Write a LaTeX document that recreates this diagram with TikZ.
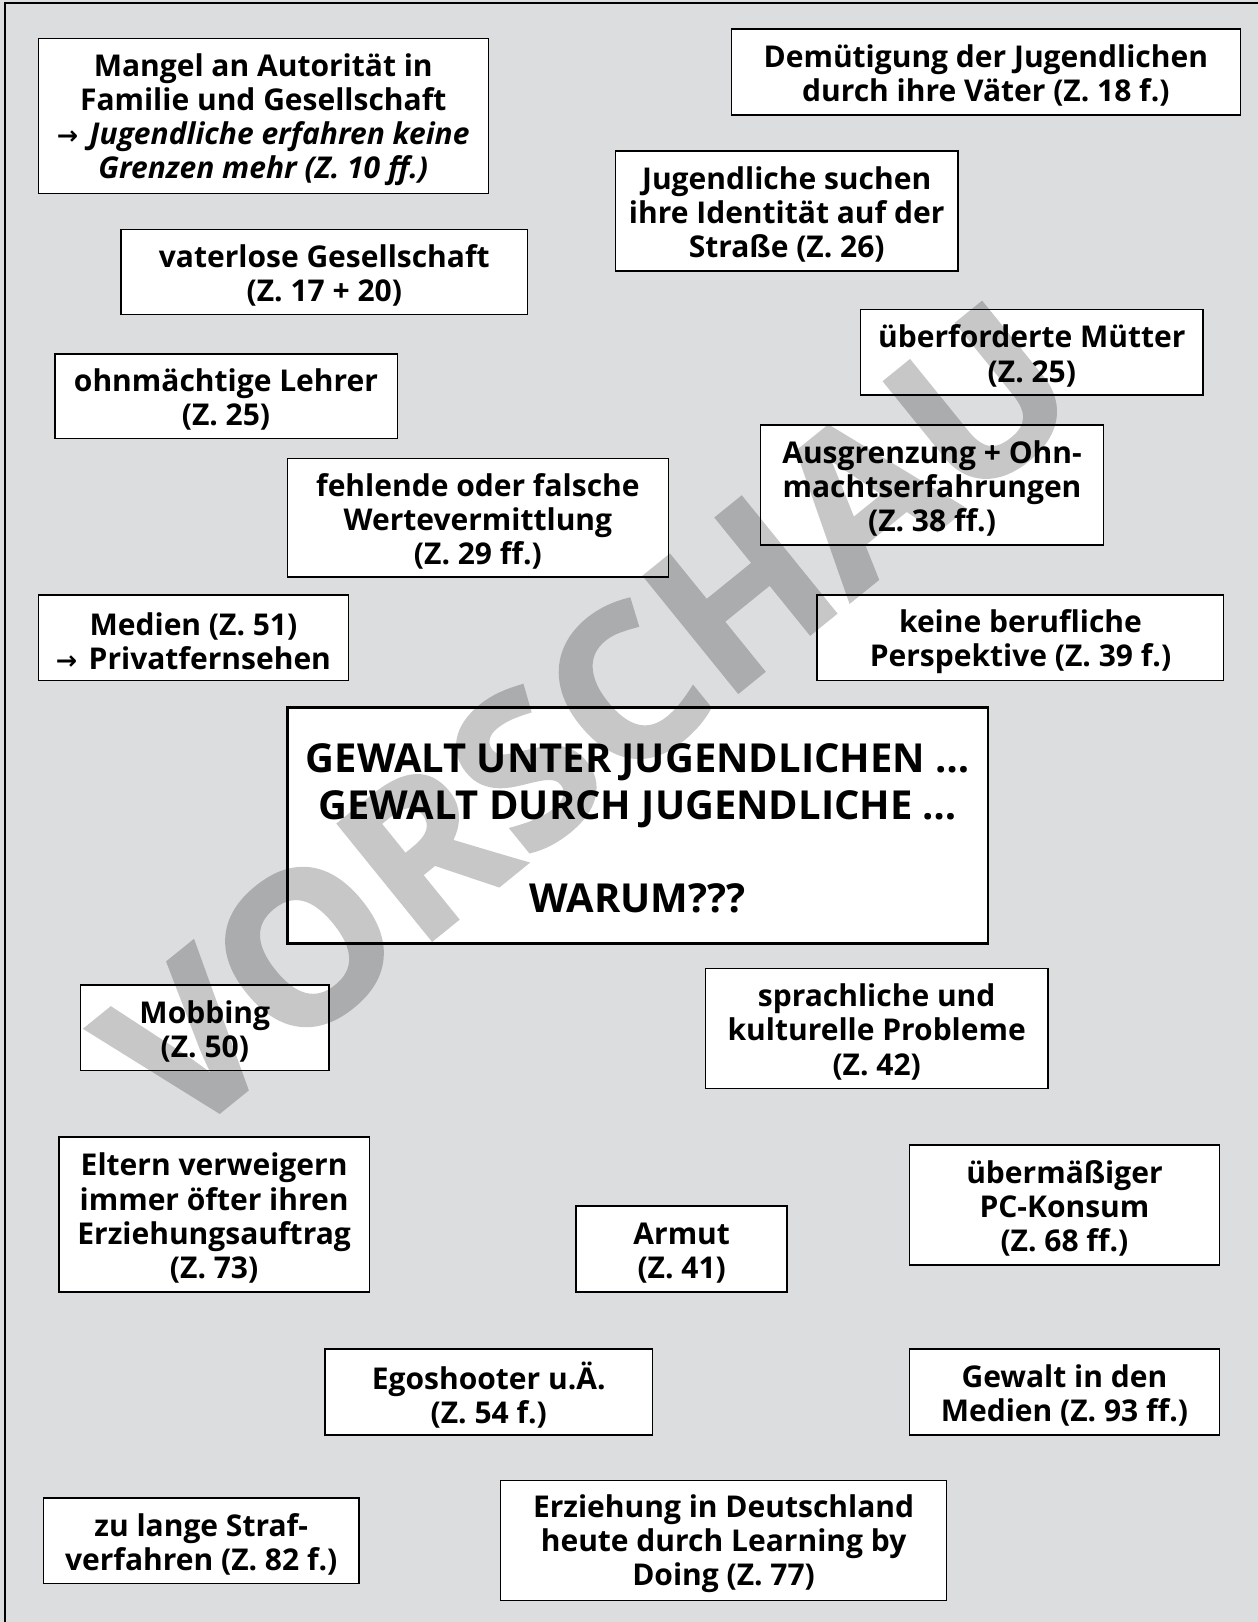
\documentclass[tikz,border=0pt]{standalone}
\usepackage{fontspec}
\setmainfont{Open Sans}
\newfontfamily\arrowfont{DejaVu Sans}[Scale=0.85]
\newfontfamily\wmfont{Open Sans}[BoldFeatures={FakeBold=1.5}]
\definecolor{bgcol}{RGB}{220,221,223}
\newcommand\bodyfont{\fontsize{14.5}{16.5}\selectfont\bfseries}
\newcommand\bigfont{\fontsize{19.3}{22.5}\selectfont\bfseries}
\newcommand\arr{{\arrowfont\upshape →}\hspace{0.12em}}
\begin{document}
\begin{tikzpicture}[x=0.5pt,y=-0.5pt,
  box/.style 2 args={draw, line width=0.7pt, fill=white,
    minimum width=#1*0.5pt, minimum height=#2*0.5pt, inner sep=0pt},
  txt/.style={align=center, font=\bodyfont, inner sep=0pt, yshift=-1.75pt},
  bigtxt/.style={txt, font=\bigfont, yshift=0.25pt},
  wmark/.style={rotate=39, xscale=1.02, inner sep=0pt,
    font=\fontsize{101}{101}\wmfont\bfseries}]
\useasboundingbox (0,0) rectangle (1216,1568);
\fill[bgcol] (0,0) rectangle (1216,1568);
\draw[line width=0.8pt] (4.8,1570) -- (4.8,2.9) -- (1218,2.9);

\node[box={435}{150}, label={[txt]center:{Mangel an Autorität in\\Familie und Gesellschaft\\\itshape\arr{} Jugendliche erfahren keine\\\itshape Grenzen mehr (Z. 10 ff.)}}] (mangel) at (254.5,112) {};
\node[box={492}{83}, label={[txt]center:{Demütigung der Jugendlichen\\durch ihre Väter (Z. 18 f.)}}] (demuet) at (953,69.5) {};
\node[box={331}{116}, label={[txt]center:{Jugendliche suchen\\ihre Identität auf der\\Straße (Z. 26)}}] (ident) at (760.5,204) {};
\node[box={393}{82}, label={[txt]center:{vaterlose Gesellschaft\\(Z. 17 + 20)}}] (vaterlos) at (313.5,263) {};
\node[box={331}{83}, label={[txt]center:{überforderte Mütter\\(Z. 25)}}] (muetter) at (997.5,340.5) {};
\node[box={331}{82}, label={[txt]center:{ohnmächtige Lehrer\\(Z. 25)}}] (lehrer) at (218.5,383) {};
\node[box={332}{116}, label={[txt]center:{Ausgrenzung + Ohn-\\machtserfahrungen\\(Z. 38 ff.)}}] (ausgr) at (901,469) {};
\node[box={368}{115}, label={[txt]center:{fehlende oder falsche\\Wertevermittlung\\(Z. 29 ff.)}}] (werte) at (462,500.5) {};
\node[box={300}{83}, label={[txt]center:{Medien (Z. 51)\\\arr{} Privatfernsehen}}] (medien) at (187,616.5) {};
\node[box={393}{83}, label={[txt]center:{keine berufliche\\Perspektive (Z. 39 f.)}}] (beruf) at (986.5,616.5) {};
\node[box={677}{228}, line width=1.3pt, label={[bigtxt]center:{GEWALT UNTER JUGENDLICHEN …\\GEWALT DURCH JUGENDLICHE …\\~\\WARUM???}}] (gewalt) at (616.5,798) {};
\node[box={240}{83}, label={[txt]center:{Mobbing\\(Z. 50)}}] (mobbing) at (198,993.5) {};
\node[box={331}{116}, label={[txt]center:{sprachliche und\\kulturelle Probleme\\(Z. 42)}}] (sprach) at (847.5,994) {};
\node[box={300}{150}, label={[txt]center:{Eltern verweigern\\immer öfter ihren\\Erziehungsauftrag\\(Z. 73)}}] (eltern) at (207,1174) {};
\node[box={300}{116}, label={[txt]center:{übermäßiger\\PC-Konsum\\(Z. 68 ff.)}}] (pc) at (1029,1165) {};
\node[box={204}{83}, label={[txt]center:{Armut\\(Z. 41)}}] (armut) at (659,1207.5) {};
\node[box={317}{83}, label={[txt]center:{Egoshooter u.Ä.\\(Z. 54 f.)}}] (ego) at (472.5,1345.5) {};
\node[box={300}{83}, label={[txt]center:{Gewalt in den\\Medien (Z. 93 ff.)}}] (medgew) at (1029,1345.5) {};
\node[box={305}{83}, label={[txt]center:{zu lange Straf-\\verfahren (Z. 82 f.)}}] (straf) at (194.5,1489.5) {};
\node[box={431}{116}, label={[txt]center:{Erziehung in Deutschland\\heute durch Learning by\\Doing (Z. 77)}}] (erz) at (699.5,1489) {};

\begin{scope}[transparency group, opacity=0.22]
\node[wmark] (wm) at (568,694) {VORSCHAU};
\end{scope}
\end{tikzpicture}
\end{document}
